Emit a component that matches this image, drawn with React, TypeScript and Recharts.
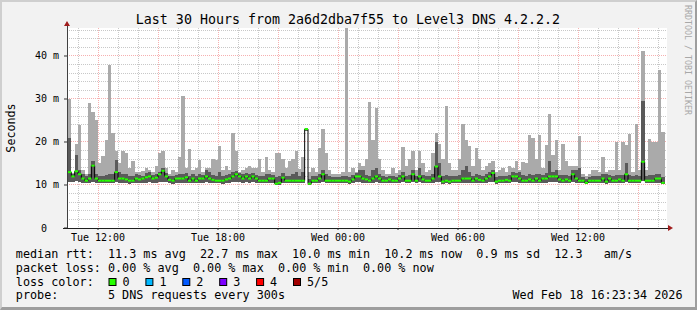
import { ComposedChart, Area, Line, XAxis, YAxis, CartesianGrid } from 'recharts';

// 10 minute bins starting Tue 10:30 (hours counted from Tue 00:00)
const START_HOUR = 10.5;
const BIN_HOURS = 1 / 6;
const PLOT_W = 600;
const X_DOMAIN: [number, number] = [10.45, 40.45];
const BIN_PX = PLOT_W / (X_DOMAIN[1] - X_DOMAIN[0]) * BIN_HOURS;

// median rtt per bin (ms)
const medianMs = [
    13.0, 12.0, 13.2, 12.5, 11.5, 11.0, 11.5, 14.5, 11.5, 11.0,
    11.0, 11.0, 11.0, 11.0, 13.0, 11.5, 11.5, 11.3, 11.0, 11.0,
    11.5, 11.3, 11.5, 11.8, 12.0, 11.5, 11.7, 12.5, 13.3, 12.0,
    11.2, 11.0, 11.5, 11.5, 11.5, 11.8, 11.0, 11.5, 11.0, 11.5,
    11.5, 12.0, 11.5, 11.2, 11.0, 11.0, 11.0, 11.3, 11.5, 12.0,
    12.5, 12.0, 11.5, 12.0, 11.5, 12.0, 11.5, 11.0, 11.0, 11.0,
    11.5, 11.5, 10.3, 10.5, 11.7, 11.0, 11.0, 11.0, 11.0, 11.0,
    11.0, 23.0, 10.3, 11.0, 11.0, 11.5, 12.5, 11.0, 11.0, 11.0,
    11.0, 11.0, 11.0, 11.0, 10.8, 11.3, 12.0, 12.0, 11.5, 11.3,
    11.0, 11.5, 12.0, 11.5, 11.0, 11.0, 11.3, 11.0, 11.0, 11.5,
    12.0, 11.0, 11.0, 12.5, 11.0, 12.0, 11.3, 11.0, 11.0, 11.5,
    14.3, 12.0, 10.8, 11.0, 10.8, 11.0, 11.0, 11.0, 11.5, 11.5,
    11.5, 11.0, 11.5, 11.2, 11.0, 11.5, 12.0, 12.8, 10.8, 11.0,
    11.0, 11.2, 11.0, 12.0, 12.0, 11.5, 11.0, 11.0, 11.3, 11.0,
    11.5, 11.0, 11.5, 11.5, 12.0, 12.0, 12.0, 11.3, 11.0, 11.3,
    11.0, 12.5, 11.5, 11.0, 11.0, 10.5, 11.0, 11.0, 11.0, 11.0,
    11.5, 10.8, 11.5, 11.0, 11.0, 11.3, 11.0, 12.5, 11.0, 11.0,
    11.0, 11.0, 15.4, 11.0, 11.0, 11.0, 11.5, 11.5, 10.5,
];

// lowest ping per bin (ms)
const minMs = [
    10.8, 10.6, 10.9, 10.7, 10.5, 10.4, 10.5, 10.8, 10.5, 10.4,
    10.4, 10.4, 10.4, 10.5, 10.6, 10.4, 10.5, 10.5, 10.3, 10.4,
    10.5, 10.4, 10.5, 10.5, 10.6, 10.5, 10.5, 10.6, 10.8, 10.6,
    10.4, 10.3, 10.5, 10.5, 10.5, 10.5, 10.4, 10.5, 10.4, 10.5,
    10.5, 10.6, 10.5, 10.4, 10.4, 10.4, 10.3, 10.4, 10.5, 10.6,
    10.8, 10.6, 10.5, 10.6, 10.5, 10.6, 10.5, 10.4, 10.4, 10.4,
    10.5, 10.4, 10.0, 10.1, 10.5, 10.4, 10.4, 10.4, 10.4, 10.4,
    10.4, 22.6, 10.0, 10.4, 10.4, 10.5, 10.6, 10.4, 10.4, 10.4,
    10.4, 10.4, 10.4, 10.4, 10.3, 10.4, 10.6, 10.6, 10.5, 10.4,
    10.4, 10.5, 10.6, 10.5, 10.4, 10.4, 10.4, 10.4, 10.4, 10.5,
    10.6, 10.4, 10.4, 10.6, 10.4, 10.6, 10.4, 10.4, 10.4, 10.5,
    10.8, 10.6, 10.3, 10.4, 10.3, 10.4, 10.4, 10.4, 10.5, 10.5,
    10.5, 10.4, 10.5, 10.4, 10.4, 10.5, 10.6, 10.7, 10.3, 10.4,
    10.4, 10.4, 10.4, 10.6, 10.6, 10.5, 10.4, 10.4, 10.4, 10.4,
    10.5, 10.4, 10.5, 10.5, 10.6, 10.6, 10.6, 10.4, 10.4, 10.4,
    10.4, 10.6, 10.5, 10.4, 10.4, 10.2, 10.4, 10.4, 10.4, 10.4,
    10.5, 10.3, 10.5, 10.4, 10.4, 10.4, 10.4, 10.6, 10.4, 10.4,
    10.4, 10.4, 11.0, 10.4, 10.4, 10.4, 10.5, 10.5, 10.2,
];

// top of the dark smoke band per bin (ms)
const darkTopMs = [
    21.0, 12.5, 17.0, 13.5, 12.5, 12.0, 12.5, 15.5, 12.5, 12.0,
    12.0, 12.3, 12.5, 12.5, 15.8, 13.0, 12.5, 12.5, 12.0, 12.2,
    12.5, 12.3, 12.2, 12.8, 13.0, 12.3, 12.5, 13.0, 14.0, 12.8,
    12.0, 12.0, 12.3, 12.5, 12.5, 12.8, 12.0, 12.5, 12.0, 12.5,
    12.3, 13.5, 13.0, 12.3, 12.0, 13.0, 12.0, 12.3, 12.5, 13.0,
    13.2, 12.8, 12.5, 12.8, 12.5, 12.8, 12.3, 12.0, 12.0, 12.5,
    12.5, 12.3, 11.8, 12.0, 12.8, 12.0, 12.2, 12.5, 13.0, 12.0,
    13.0, 23.0, 11.5, 12.0, 12.0, 12.5, 13.5, 12.5, 12.0, 11.8,
    11.8, 11.8, 12.0, 12.0, 11.8, 12.3, 12.8, 13.5, 13.5, 12.3,
    12.0, 13.5, 14.0, 12.5, 12.0, 11.8, 12.0, 12.0, 11.8, 12.3,
    13.0, 12.0, 12.3, 13.5, 12.0, 14.0, 12.3, 12.0, 12.0, 12.5,
    20.0, 15.0, 12.0, 12.3, 12.0, 12.0, 12.0, 12.3, 13.5, 14.5,
    13.0, 12.0, 12.5, 12.3, 12.0, 12.5, 13.0, 13.5, 11.8, 12.0,
    12.0, 12.0, 12.3, 13.0, 12.8, 13.0, 12.3, 12.0, 12.5, 12.3,
    12.5, 12.5, 12.3, 12.8, 15.6, 13.0, 13.5, 12.3, 12.3, 12.3,
    12.0, 13.5, 13.5, 14.0, 11.8, 11.5, 11.8, 12.0, 12.0, 12.0,
    12.5, 12.5, 12.3, 12.0, 12.3, 12.3, 12.3, 15.0, 12.3, 12.0,
    12.3, 12.0, 29.5, 12.0, 12.3, 12.3, 12.5, 12.5, 11.8,
];

// highest ping per bin (ms)
const maxMs = [
    30.0, 12.8, 19.5, 24.0, 13.5, 12.5, 29.0, 27.0, 25.0, 15.0,
    16.8, 20.5, 38.0, 22.0, 18.0, 15.0, 18.0, 17.4, 14.0, 15.5,
    13.0, 13.0, 13.3, 14.0, 13.5, 13.0, 14.5, 17.4, 18.0, 14.0,
    12.5, 13.5, 13.0, 16.5, 30.7, 14.0, 18.4, 13.5, 14.0, 15.8,
    13.0, 14.0, 14.0, 16.0, 15.8, 19.0, 13.5, 14.5, 13.5, 22.0,
    17.8, 13.0, 13.5, 14.0, 14.5, 14.0, 14.0, 16.0, 13.0, 16.5,
    13.5, 13.0, 17.4, 17.5, 16.0, 14.0, 15.5, 16.0, 17.9, 13.8,
    16.5, 23.3, 13.0, 14.0, 13.0, 18.5, 23.0, 17.4, 13.5, 12.5,
    12.5, 12.5, 13.0, 46.5, 13.0, 14.0, 13.0, 15.0, 14.5, 16.0,
    29.4, 20.5, 28.0, 16.0, 13.5, 12.5, 12.5, 14.0, 12.8, 13.5,
    18.9, 14.5, 16.0, 18.0, 13.5, 18.0, 15.0, 13.0, 13.5, 17.5,
    22.2, 19.5, 16.0, 28.4, 15.0, 13.5, 13.5, 16.0, 24.3, 20.5,
    19.0, 14.5, 18.5, 16.0, 13.5, 14.5, 15.0, 15.5, 13.0, 13.5,
    14.0, 13.0, 14.5, 14.0, 15.6, 13.5, 15.4, 15.0, 21.6, 21.0,
    16.0, 21.6, 14.0, 19.3, 26.4, 17.0, 20.5, 13.5, 19.5, 15.5,
    14.5, 14.5, 14.5, 21.5, 12.5, 12.0, 12.5, 13.5, 13.5, 13.0,
    16.5, 13.0, 13.5, 13.5, 20.1, 13.5, 20.1, 19.3, 21.8, 13.0,
    24.3, 13.5, 41.2, 13.5, 20.6, 20.1, 20.0, 36.7, 22.4,
];

const xTickHours = [12, 15, 18, 21, 24, 27, 30, 33, 36, 39];
const xTickLabels = ['Tue 12:00', '', 'Tue 18:00', '', 'Wed 00:00', '', 'Wed 06:00', '', 'Wed 12:00', ''];
const yTickValues = [0, 10, 20, 30, 40];
const yTickLabels = ['0  ', '10 m', '20 m', '30 m', '40 m'];

const yMinorGrid = [2, 4, 6, 8, 12, 14, 16, 18, 22, 24, 26, 28, 32, 34, 36, 38, 42, 44, 46];
const yMajorGrid = [10, 20, 30, 40];
const xMinorGrid = [11, 13, 14, 16, 17, 19, 20, 22, 23, 25, 26, 28, 29, 31, 32, 34, 35, 37, 38, 40];
const xMajorGrid = [12, 15, 18, 21, 24, 27, 30, 33, 36, 39];

const lossColors = ['#26ff00', '#00b8ff', '#0059ff', '#7e00ff', '#ff0000', '#a10000'];
const lossLabels = ['0', '1', '2', '3', '4', '5/5'];

const statLine1 = 'median rtt:  11.3 ms avg  22.7 ms max  10.0 ms min  10.2 ms now  0.9 ms sd  12.3   am/s';
const statLine2 = 'packet loss: 0.00 % avg  0.00 % max  0.00 % min  0.00 % now';
const probeText = 'probe:       5 DNS requests every 300s';
const dateText = 'Wed Feb 18 16:23:34 2026';

const data: any[] = medianMs.map((m, i) => ({
    t: START_HOUR + i * BIN_HOURS,
    med: m,
    lo: minMs[i],
    dark: darkTopMs[i] - minMs[i],
    light: maxMs[i] - darkTopMs[i],
}));
// repeat the last bin so the final step closes
data.push({ ...data[data.length - 1], t: START_HOUR + medianMs.length * BIN_HOURS, end: true });

const FONT = "'DejaVu Sans Mono', monospace";

const XTick = (props: any) => {
    const { x, y, payload } = props;
    const label = xTickLabels[xTickHours.indexOf(payload.value)];
    if (!label) return <g />;
    return (
        <text x={x} y={y} dy={7} textAnchor="middle" fontSize={10} fontFamily={FONT} fill="#000">
            {label}
        </text>
    );
};

const YTick = (props: any) => {
    const { x, y, payload } = props;
    const label = yTickLabels[yTickValues.indexOf(payload.value)];
    return (
        <text x={x} y={y} dy={3.5} textAnchor="end" fontSize={10} fontFamily={FONT} fill="#000"
            xmlSpace="preserve" style={{ whiteSpace: 'pre' }}>
            {label}
        </text>
    );
};

const MedianDot = (props: any) => {
    const { cx, cy, payload, index } = props;
    if (payload.end || cx == null || cy == null) return <g key={`md${index}`} />;
    return <rect key={`md${index}`} x={cx} y={cy - 1} width={BIN_PX} height={2} fill="#26ff00" />;
};

export default function App() {
    return (
        <div style={{ position: 'absolute', left: 0, top: 0, width: 697, height: 310 }}>
            <style>{`
                .recharts-cartesian-grid line { shape-rendering: crispEdges; }
                .recharts-area-area { shape-rendering: crispEdges; }
                .pre { white-space: pre; }
            `}</style>
            {/* frame */}
            <div
                style={{
                    position: 'absolute', left: 0, top: 0, width: 697, height: 310, boxSizing: 'border-box',
                    background: '#f2f2f2',
                    borderTop: '2px solid #cfcfcf', borderLeft: '2px solid #cfcfcf',
                    borderRight: '2px solid #9e9e9e', borderBottom: '3px solid #9e9e9e',
                }}
            />
            <div style={{ position: 'absolute', left: 0, top: 0 }}>
                <ComposedChart width={697} height={310} data={data} margin={{ top: 28, right: 30, bottom: 52, left: 7 }}>
                    <CartesianGrid fill="#ffffff" stroke="#c8c8c8" strokeDasharray="1 1"
                        horizontalValues={yMinorGrid} verticalValues={xMinorGrid} />
                    <CartesianGrid fill="none" stroke="#f6b0b0" strokeDasharray="1 1"
                        horizontalValues={yMajorGrid} verticalValues={xMajorGrid} />
                    <XAxis type="number" dataKey="t" domain={X_DOMAIN} allowDataOverflow ticks={xTickHours}
                        interval={0} height={30} axisLine={false} tickLine={{ stroke: '#333' }}
                        tickSize={2} tickMargin={4} tick={(p: any) => <XTick {...p} />} />
                    <YAxis type="number" domain={[0, 46.51]} allowDataOverflow ticks={yTickValues}
                        interval={0} width={60} axisLine={false} tickLine={{ stroke: '#333' }}
                        tickSize={3} tickMargin={5} tick={(p: any) => <YTick {...p} />} />
                    <Area type="stepAfter" dataKey="lo" stackId="s" stroke="none" fill="none" isAnimationActive={false} />
                    <Area type="stepAfter" dataKey="dark" stackId="s" stroke="none" fill="#5a5a5a" fillOpacity={1} isAnimationActive={false} />
                    <Area type="stepAfter" dataKey="light" stackId="s" stroke="none" fill="#aaaaaa" fillOpacity={1} isAnimationActive={false} />
                    <Line type="stepAfter" dataKey="med" stroke="#000" strokeWidth={1} dot={MedianDot}
                        activeDot={false} isAnimationActive={false} />
                </ComposedChart>
            </div>
            <svg width={697} height={310} fontFamily={FONT}
                style={{ position: 'absolute', left: 0, top: 0, pointerEvents: 'none' }}>
                <text x={348} y={24} fontSize={13.3} textAnchor="middle" fill="#000">
                    Last 30 Hours from 2a6d2dba7f55 to Level3 DNS 4.2.2.2
                </text>
                <text transform="translate(15,128) rotate(-90)" fontSize={11.7} textAnchor="middle" fill="#000">
                    Seconds
                </text>
                <text transform="translate(685,5) rotate(90)" fontSize={8.3} fill="#a8a8a8">
                    RRDTOOL / TOBI OETIKER
                </text>

                {/* axes with arrows */}
                <line x1={67} y1={228} x2={67} y2={25} stroke="#404040" shapeRendering="crispEdges" />
                <line x1={63} y1={228} x2={669} y2={228} stroke="#202020" shapeRendering="crispEdges" />
                <polygon points="64,26 70,26 67,21" fill="#a01c1c" />
                <polygon points="668,225 668,231 673,228" fill="#a01c1c" />

                {/* legend */}
                <g fontSize={11.78} fill="#000">
                    <text className="pre" xmlSpace="preserve" x={15.8} y={258.3}>{statLine1}</text>
                    <text className="pre" xmlSpace="preserve" x={15.8} y={272}>{statLine2}</text>
                    <text x={15.8} y={285.7}>loss color:</text>
                    {lossColors.map((c, i) => (
                        <g key={`c${i}`}>
                            <rect x={109 + i * 36.9} y={278.5} width={7} height={7} fill={c} stroke="#000" strokeWidth={1} />
                            <text x={122.5 + i * 36.9} y={285.7}>{lossLabels[i]}</text>
                        </g>
                    ))}
                    <text className="pre" xmlSpace="preserve" x={15.8} y={299.4}>{probeText}</text>
                    <text x={512.5} y={299.4}>{dateText}</text>
                </g>
            </svg>
        </div>
    );
}
